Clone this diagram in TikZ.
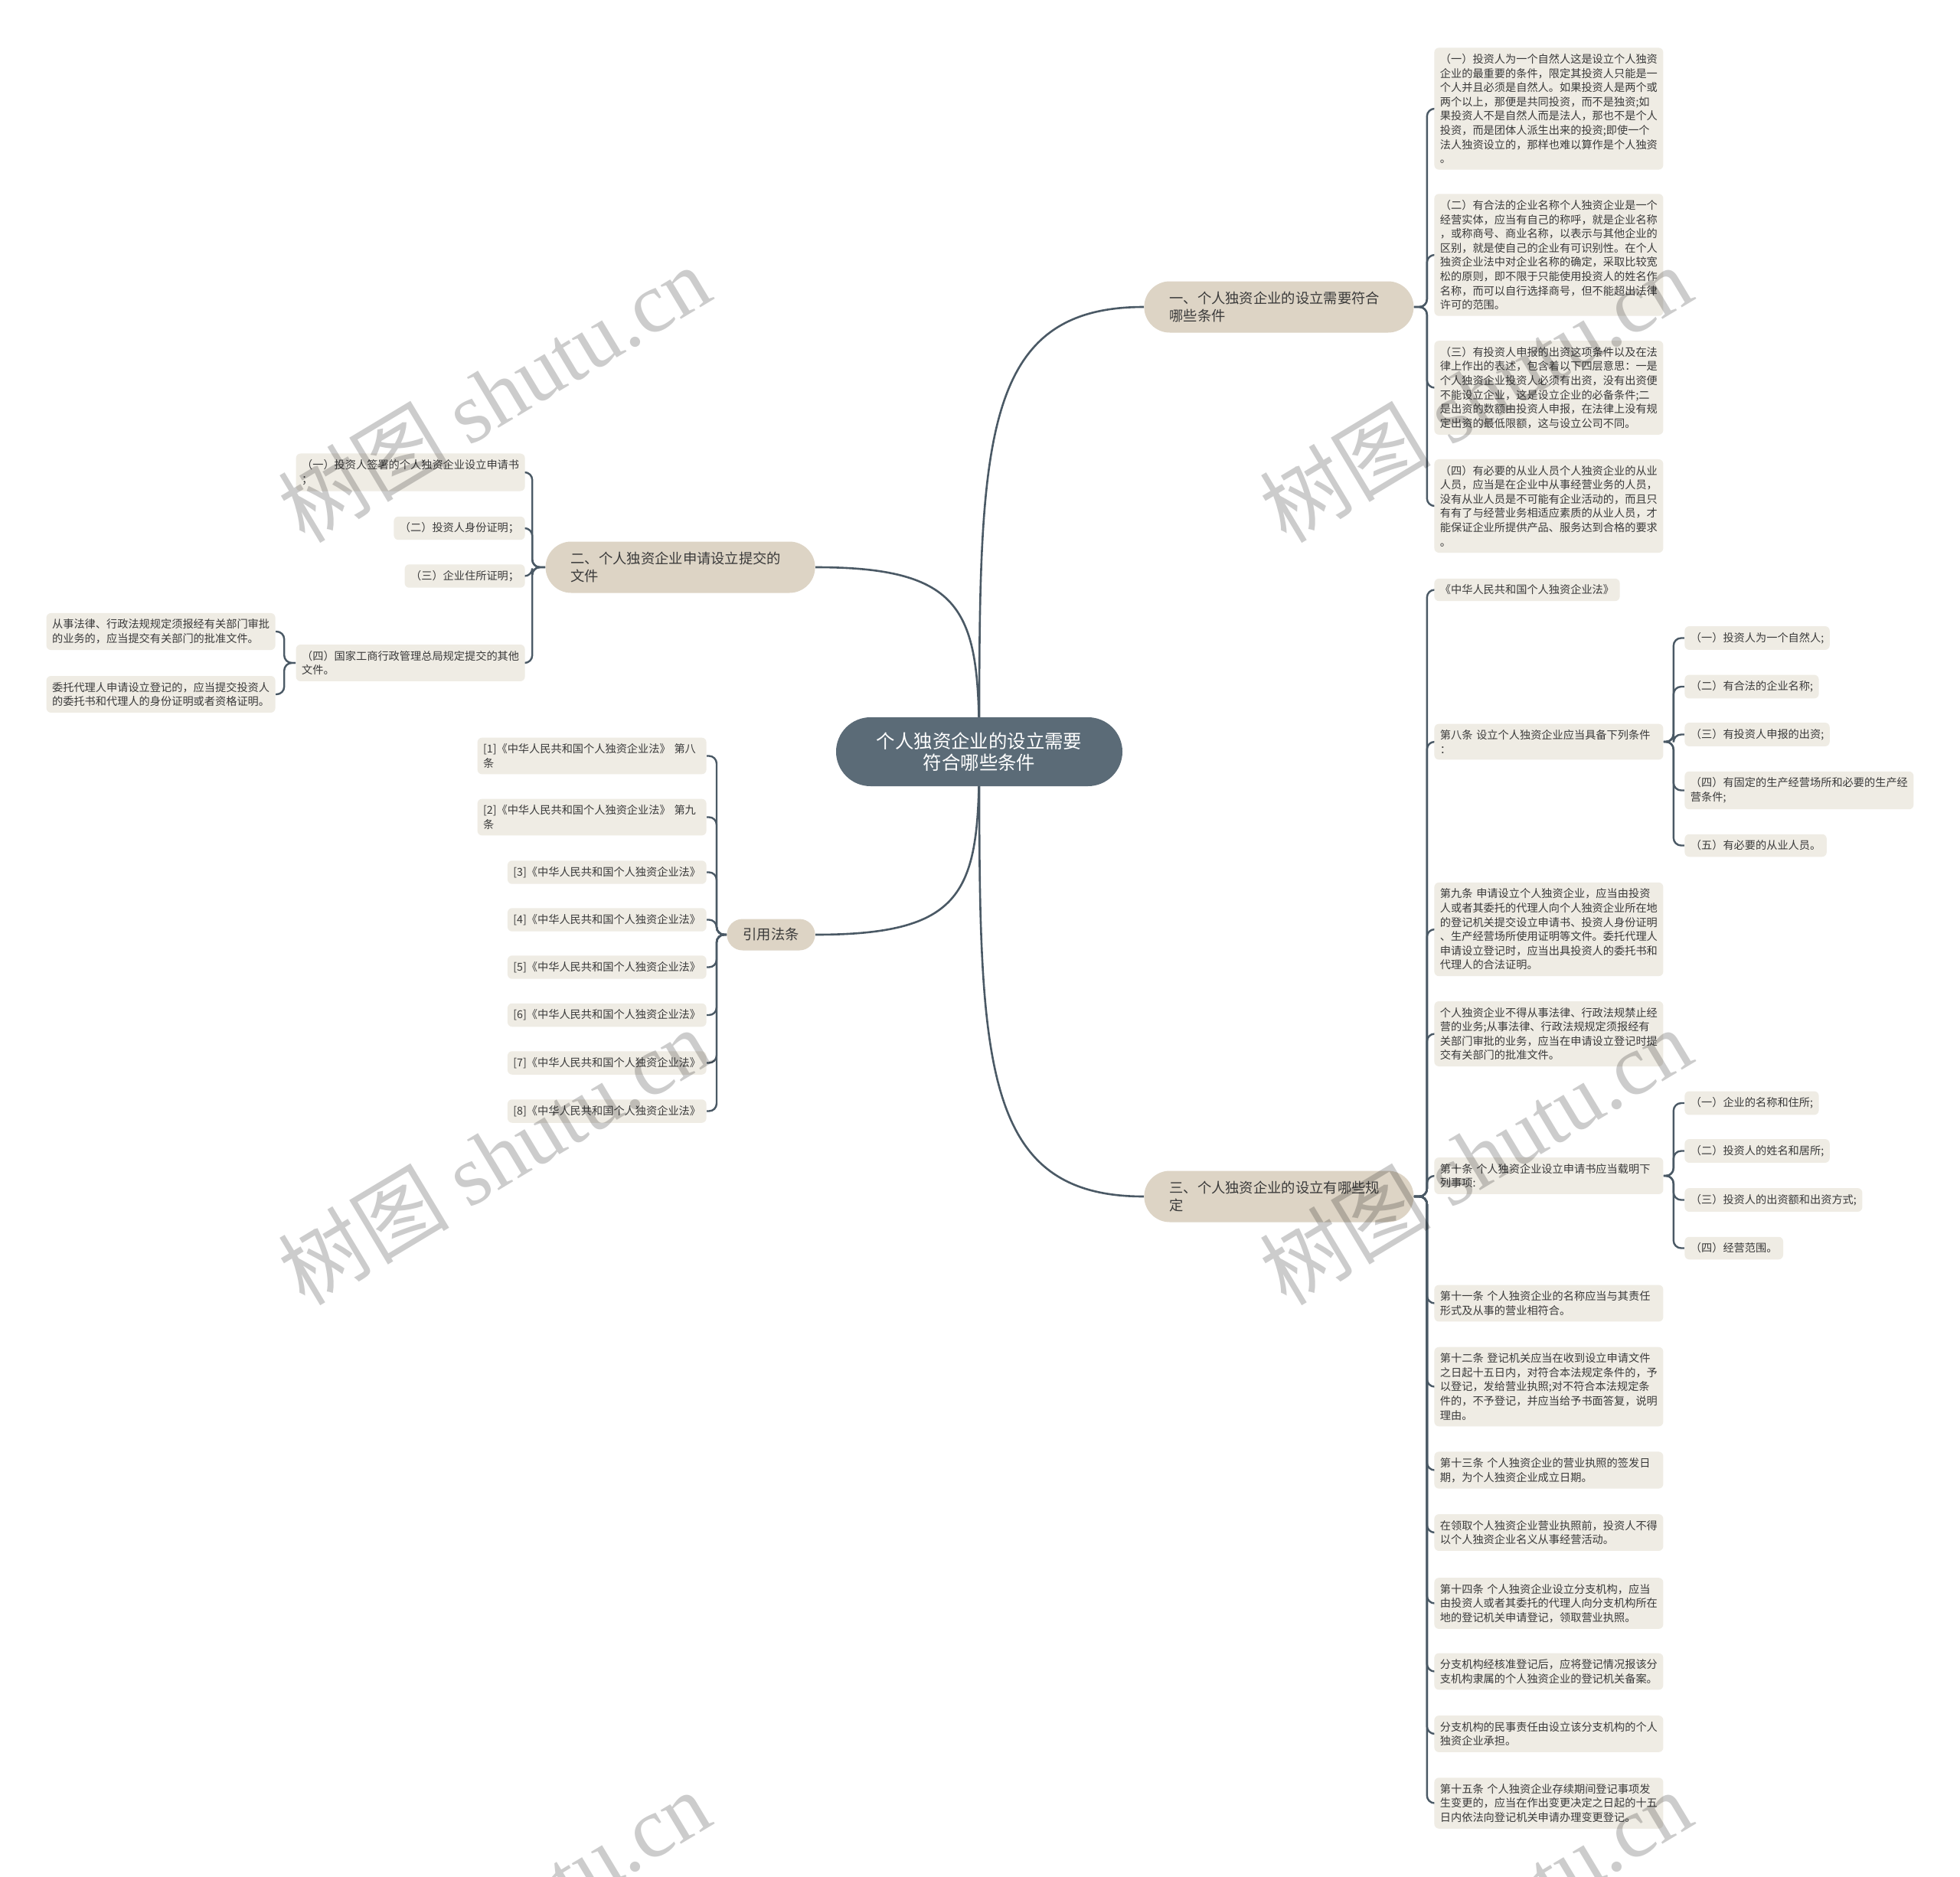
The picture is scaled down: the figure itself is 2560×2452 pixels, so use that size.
\documentclass[tikz,border=0pt]{standalone}
\usepackage{fontspec}
\setmainfont{Noto Sans CJK SC}
\newfontfamily\wmfont{Liberation Serif}
\usetikzlibrary{backgrounds}
\definecolor{rootcol}{HTML}{5B6B77}
\definecolor{branchcol}{HTML}{DDD4C5}
\definecolor{leafcol}{HTML}{EFECE4}
\definecolor{linecol}{HTML}{4A5965}
\definecolor{textcol}{HTML}{3A3A3A}

\begin{document}
\begin{tikzpicture}[x=0.5pt,y=-0.5pt, every node/.style={text=textcol},
  root/.style={fill=rootcol,text=white,rounded corners=22.5pt,minimum width=187pt,minimum height=45pt,align=center,font=\fontsize{12.2}{14}\selectfont},
  topic/.style={fill=branchcol,rounded corners=16.75pt,minimum height=33.5pt,inner xsep=16.5pt,align=left,font=\fontsize{9.15}{11.5}\selectfont},
  topicw/.style={topic,text width=143pt},
  leaf/.style={fill=leafcol,rounded corners=3pt,inner xsep=3.75pt,inner ysep=4pt,align=left,font=\fontsize{7.1}{9.3}\selectfont},
  leafw/.style={leaf,text width=142pt},
  link/.style={draw=linecol,line width=1.2pt,rounded corners=5pt},
  mainlink/.style={draw=linecol,line width=1.3pt},
  wmark/.style={rotate=31,text=black,text opacity=0.2,font=\fontsize{56}{56}\selectfont}]
  \useasboundingbox (0,0) rectangle (2560,2452);
  \clip (0,0) rectangle (2560,2452);

  \node[root] (root) at (1279,982) {个人独资企业的设立需要\\符合哪些条件};
  \node[topicw,anchor=west] (cond) at (1494,401) {一、个人独资企业的设立需要符合\\哪些条件};
  \node[topicw,anchor=east] (docs) at (1065,741) {二、个人独资企业申请设立提交的\\文件};
  \node[topic,anchor=east,inner xsep=10.5pt,minimum height=20.5pt,rounded corners=10.25pt] (cite) at (1065,1221) {引用法条};
  \node[topicw,anchor=west] (rule) at (1494,1563) {三、个人独资企业的设立有哪些规\\定};

  \node[leafw,anchor=west] (cond1) at (1873,142) {（一）投资人为一个自然人这是设立个人独资\\企业的最重要的条件，限定其投资人只能是一\\个人并且必须是自然人。如果投资人是两个或\\两个以上，那便是共同投资，而不是独资;如\\果投资人不是自然人而是法人，那也不是个人\\投资，而是团体人派生出来的投资;即使一个\\法人独资设立的，那样也难以算作是个人独资\\。};
  \node[leafw,anchor=west] (cond2) at (1873,333) {（二）有合法的企业名称个人独资企业是一个\\经营实体，应当有自己的称呼，就是企业名称\\，或称商号、商业名称，以表示与其他企业的\\区别，就是使自己的企业有可识别性。在个人\\独资企业法中对企业名称的确定，采取比较宽\\松的原则，即不限于只能使用投资人的姓名作\\名称，而可以自行选择商号，但不能超出法律\\许可的范围。};
  \node[leafw,anchor=west] (cond3) at (1873,506.5) {（三）有投资人申报的出资这项条件以及在法\\律上作出的表述，包含着以下四层意思：一是\\个人独资企业投资人必须有出资，没有出资便\\不能设立企业，这是设立企业的必备条件;二\\是出资的数额由投资人申报，在法律上没有规\\定出资的最低限额，这与设立公司不同。};
  \node[leafw,anchor=west] (cond4) at (1873,661) {（四）有必要的从业人员个人独资企业的从业\\人员，应当是在企业中从事经营业务的人员，\\没有从业人员是不可能有企业活动的，而且只\\有有了与经营业务相适应素质的从业人员，才\\能保证企业所提供产品、服务达到合格的要求\\。};

  \node[leafw,anchor=east] (docs1) at (686,617) {（一）投资人签署的个人独资企业设立申请书\\；};
  \node[leaf,anchor=east] (docs2) at (686,690) {（二）投资人身份证明；};
  \node[leaf,anchor=east] (docs3) at (686,752.5) {（三）企业住所证明；};
  \node[leafw,anchor=east] (docs4) at (686,866) {（四）国家工商行政管理总局规定提交的其他\\文件。};
  \node[leafw,anchor=east] (docs4a) at (360,825) {从事法律、行政法规规定须报经有关部门审批\\的业务的，应当提交有关部门的批准文件。};
  \node[leafw,anchor=east] (docs4b) at (360,907) {委托代理人申请设立登记的，应当提交投资人\\的委托书和代理人的身份证明或者资格证明。};

  \node[leafw,anchor=east] (cite1) at (923,987.5) {[1]《中华人民共和国个人独资企业法》 第八\\条};
  \node[leafw,anchor=east] (cite2) at (923,1067.5) {[2]《中华人民共和国个人独资企业法》 第九\\条};
  \foreach \n/\y in {3/1139.5,4/1201.5,5/1263.5,6/1326,7/1388.5,8/1451.5}
    \node[leaf,anchor=east] (cite\n) at (923,\y) {[\n]《中华人民共和国个人独资企业法》};

  \node[leaf,anchor=west] (rule1) at (1873,770.5) {《中华人民共和国个人独资企业法》};
  \node[leafw,anchor=west] (rule2) at (1873,969) {第八条 设立个人独资企业应当具备下列条件\\：};
  \node[leaf,anchor=west] (rule2a) at (2200,833.5) {（一）投资人为一个自然人;};
  \node[leaf,anchor=west] (rule2b) at (2200,897) {（二）有合法的企业名称;};
  \node[leaf,anchor=west] (rule2c) at (2200,959.5) {（三）有投资人申报的出资;};
  \node[leafw,anchor=west] (rule2d) at (2200,1032.5) {（四）有固定的生产经营场所和必要的生产经\\营条件;};
  \node[leaf,anchor=west] (rule2e) at (2200,1104.5) {（五）有必要的从业人员。};
  \node[leafw,anchor=west] (rule3) at (1873,1214) {第九条 申请设立个人独资企业，应当由投资\\人或者其委托的代理人向个人独资企业所在地\\的登记机关提交设立申请书、投资人身份证明\\、生产经营场所使用证明等文件。委托代理人\\申请设立登记时，应当出具投资人的委托书和\\代理人的合法证明。};
  \node[leafw,anchor=west] (rule4) at (1873,1350.5) {个人独资企业不得从事法律、行政法规禁止经\\营的业务;从事法律、行政法规规定须报经有\\关部门审批的业务，应当在申请设立登记时提\\交有关部门的批准文件。};
  \node[leafw,anchor=west] (rule5) at (1873,1536) {第十条 个人独资企业设立申请书应当载明下\\列事项:};
  \node[leaf,anchor=west] (rule5a) at (2200,1441) {（一）企业的名称和住所;};
  \node[leaf,anchor=west] (rule5b) at (2200,1503.5) {（二）投资人的姓名和居所;};
  \node[leaf,anchor=west] (rule5c) at (2200,1567.5) {（三）投资人的出资额和出资方式;};
  \node[leaf,anchor=west] (rule5d) at (2200,1630.5) {（四）经营范围。};
  \node[leafw,anchor=west] (rule6) at (1873,1702.5) {第十一条 个人独资企业的名称应当与其责任\\形式及从事的营业相符合。};
  \node[leafw,anchor=west] (rule7) at (1873,1811.5) {第十二条 登记机关应当在收到设立申请文件\\之日起十五日内，对符合本法规定条件的，予\\以登记，发给营业执照;对不符合本法规定条\\件的，不予登记，并应当给予书面答复，说明\\理由。};
  \node[leafw,anchor=west] (rule8) at (1873,1920.5) {第十三条 个人独资企业的营业执照的签发日\\期，为个人独资企业成立日期。};
  \node[leafw,anchor=west] (rule9) at (1873,2002) {在领取个人独资企业营业执照前，投资人不得\\以个人独资企业名义从事经营活动。};
  \node[leafw,anchor=west] (rule10) at (1873,2094.5) {第十四条 个人独资企业设立分支机构，应当\\由投资人或者其委托的代理人向分支机构所在\\地的登记机关申请登记，领取营业执照。};
  \node[leafw,anchor=west] (rule11) at (1873,2183.5) {分支机构经核准登记后，应将登记情况报该分\\支机构隶属的个人独资企业的登记机关备案。};
  \node[leafw,anchor=west] (rule12) at (1873,2265) {分支机构的民事责任由设立该分支机构的个人\\独资企业承担。};
  \node[leafw,anchor=west] (rule13) at (1873,2355.5) {第十五条 个人独资企业存续期间登记事项发\\生变更的，应当在作出变更决定之日起的十五\\日内依法向登记机关申请办理变更登记。};

  \begin{scope}[on background layer]
    \fill[white] (0,0) rectangle (2560,2452);
    \draw[mainlink] (root.center) .. controls +(0,-400) and +(-215,0) .. (cond.west);
    \draw[mainlink] (root.center) .. controls +(0,-180) and +(200,0) .. (docs.east);
    \draw[mainlink] (root.center) .. controls +(0,180) and +(200,0) .. (cite.east);
    \draw[mainlink] (root.center) .. controls +(0,400) and +(-215,0) .. (rule.west);
    \foreach \c in {cond1,cond2,cond3,cond4}
      \draw[link] (cond.east) -- ++(17,0) |- (\c.west);
    \foreach \c in {docs1,docs2,docs3,docs4}
      \draw[link] (docs.west) -- ++(-17,0) |- (\c.east);
    \foreach \c in {docs4a,docs4b}
      \draw[link] (docs4.west) -- ++(-15,0) |- (\c.east);
    \foreach \n in {1,...,8}
      \draw[link] (cite.west) -- ++(-13,0) |- (cite\n.east);
    \foreach \n in {1,...,13}
      \draw[link] (rule.east) -- ++(17,0) |- (rule\n.west);
    \foreach \c in {a,b,c,d,e}
      \draw[link] (rule2.east) -- ++(13,0) |- (rule2\c.west);
    \foreach \c in {a,b,c,d}
      \draw[link] (rule5.east) -- ++(13,0) |- (rule5\c.west);
  \end{scope}

  \foreach \wx/\wy [count=\i] in {645/514,1927/514,645/1510,1927/1510,645/2506,1927/2506}
    \node[wmark] (wm\i) at (\wx,\wy) {树图 {\wmfont shutu.cn}};
\end{tikzpicture}
\end{document}
